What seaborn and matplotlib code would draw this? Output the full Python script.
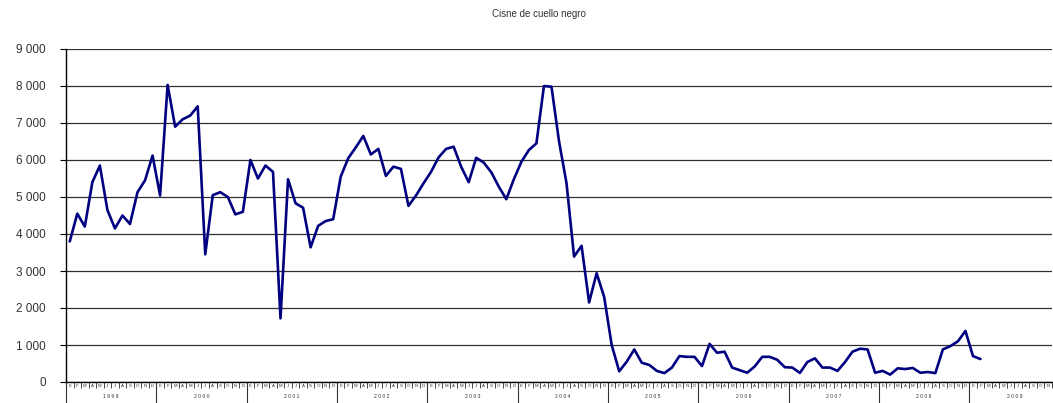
import numpy as np
import matplotlib
matplotlib.use("Agg")
import matplotlib.pyplot as plt
import matplotlib.transforms as mtransforms
import seaborn as sns

# ----------------------------------------------------
# Data (monthly counts, Jan 1999 - Feb 2009)
# ----------------------------------------------------
years = list(range(1999, 2010))
month_letters = ["E", "F", "M", "A", "M", "J", "J", "A", "S", "O", "N", "D"]
n_months = 131  # axis runs Jan 1999 .. Nov 2009

counts = [
    3800, 4550, 4200, 5400, 5850, 4650, 4150, 4500, 4270, 5130, 5450, 6120,  # 1999
    5040, 8030, 6900, 7100, 7200, 7450, 3450, 5050, 5130, 5000, 4530, 4600,  # 2000
    6000, 5500, 5850, 5680, 1720, 5480, 4830, 4710, 3640, 4220, 4350, 4400,  # 2001
    5550, 6050, 6340, 6650, 6150, 6300, 5570, 5820, 5760, 4760, 5040, 5370,  # 2002
    5680, 6070, 6300, 6360, 5820, 5400, 6060, 5930, 5670, 5280, 4940, 5480,  # 2003
    5950, 6270, 6450, 8000, 7980, 6510, 5370, 3390, 3680, 2150, 2940, 2300,  # 2004
    1000, 290, 550, 880, 520, 460, 300, 240, 390, 700, 680, 680,             # 2005
    430, 1030, 790, 820, 390, 320, 250, 420, 680, 680, 600, 400,             # 2006
    390, 245, 540, 640, 390, 390, 300, 540, 820, 900, 880, 250,              # 2007
    300, 200, 370, 350, 380, 250, 270, 240, 880, 970, 1100, 1380,            # 2008
    700, 620,                                                                # 2009
]

y_ticks = list(range(0, 10000, 1000))

# ----------------------------------------------------
# Style
# ----------------------------------------------------
sns.set_style("white")
plt.rcParams["font.family"] = ["Liberation Sans", "DejaVu Sans"]

fig = plt.figure(figsize=(10.53, 4.03), dpi=100)
ax = fig.add_axes([66 / 1053, 1 - 382 / 403, 986 / 1053, 333 / 403])

month_pos = np.arange(len(counts)) + 0.5
sns.lineplot(x=month_pos, y=counts, color="#000080", linewidth=1.9, ax=ax,
             solid_joinstyle="round", solid_capstyle="round")

ax.set_xlim(0, n_months)
ax.set_ylim(0, 9000)

# y axis
ax.set_yticks(y_ticks)
ax.set_yticklabels([f"{v:,}".replace(",", " ") for v in y_ticks], fontsize=8.5, color="#333333")
ax.yaxis.grid(True, color="#303030", linewidth=0.9)
ax.tick_params(axis="y", length=4.5, width=0.8, color="black", pad=10, left=True)

# x axis: month boundaries + letters
ax.set_xticks(np.arange(0, n_months + 1))
ax.set_xticklabels([])
ax.tick_params(axis="x", which="major", length=4, width=0.5, color="black", bottom=True)
ax.set_xticks(np.arange(n_months) + 0.5, minor=True)
ax.set_xticklabels([month_letters[i % 12] for i in range(n_months)], minor=True,
                   fontsize=3.2, color="#333333")
ax.tick_params(axis="x", which="minor", length=0, pad=1.5)
ax.set_xlabel("")
ax.set_ylabel("")

for side in ["top", "right"]:
    ax.spines[side].set_visible(False)
for side in ["left", "bottom"]:
    ax.spines[side].set_color("black")
    ax.spines[side].set_linewidth(1.0)

# year separators and labels
trans = mtransforms.blended_transform_factory(ax.transData, ax.transAxes)
for k, yr in enumerate(years):
    x0 = 12 * k
    ax.plot([x0, x0], [0, -0.07], transform=trans, color="#333333",
            linewidth=0.8, clip_on=False)
    ax.text(x0 + 6, -0.045, " ".join(str(yr)), transform=trans, ha="center",
            va="center", fontsize=3.6, color="#333333")

fig.text(539 / 1053, 1 - 14 / 403, "Cisne de cuello negro", ha="center",
         va="center", fontsize=7, color="#333333")

fig.savefig("out.png", dpi=100)
